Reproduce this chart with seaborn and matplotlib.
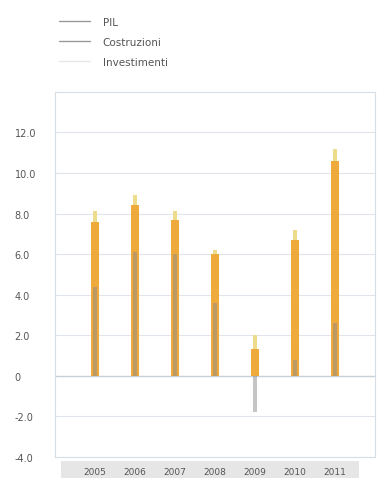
import matplotlib
matplotlib.use("Agg")
import matplotlib.pyplot as plt
from matplotlib.lines import Line2D
from matplotlib.patches import Rectangle
import pandas as pd
import seaborn as sns

# Annual growth rates (%)
years = ["2005", "2006", "2007", "2008", "2009", "2010", "2011"]
pil = [4.4, 6.1, 6.0, 3.6, -1.8, 0.8, 2.6]
costruzioni = [7.6, 8.4, 7.7, 6.0, 1.3, 6.7, 10.6]
investimenti = [8.1, 8.9, 8.1, 6.2, 2.0, 7.2, 11.2]

y_ticks = [-4, -2, 0, 2, 4, 6, 8, 10, 12]
y_tick_labels = ["-4.0", "-2.0", "0", "2.0", "4.0", "6.0", "8.0", "10.0", "12.0"]

df = pd.DataFrame({"anno": years, "PIL": pil, "Costruzioni": costruzioni,
                   "Investimenti": investimenti})

sns.set_style("white")
plt.rcParams["font.family"] = ["DejaVu Sans"]

fig = plt.figure(figsize=(3.81, 4.81), dpi=100)
ax = fig.add_axes([0.144, 0.048, 0.84, 0.759])

grid_c = "#dfe5eb"
ax.set_axisbelow(True)
ax.grid(True, color=grid_c, linewidth=0.8)

sns.barplot(data=df, x="anno", y="Investimenti", color="#ecdc8c", width=0.10,
            saturation=1, ax=ax, zorder=2, linewidth=0)
sns.barplot(data=df, x="anno", y="Costruzioni", color="#efaa3c", width=0.20,
            saturation=1, ax=ax, zorder=3, linewidth=0)
sns.barplot(data=df, x="anno", y="PIL", color="#8c8c8c", width=0.10,
            saturation=1, ax=ax, zorder=4, alpha=0.5, linewidth=0)

ax.set_xlim(-1, 7)
ax.set_ylim(-4, 14)
ax.set_xlabel("")
ax.set_ylabel("")
ax.set_yticks(y_ticks)
ax.set_yticklabels(y_tick_labels)
ax.axhline(0, color="#c8d0d8", linewidth=1.0, zorder=1)

ax.tick_params(axis="y", length=11, width=0.8, color=grid_c, pad=18,
               labelsize=7, labelcolor="#555555")
for lab in ax.get_yticklabels():
    lab.set_horizontalalignment("left")
ax.tick_params(axis="x", length=0, pad=7, labelsize=6.5, labelcolor="#555555")

for s in ax.spines.values():
    s.set_color("#d6dde4")
    s.set_linewidth(0.8)

# grey band behind the year labels
ax.add_patch(Rectangle((0.02, -0.058), 0.93, 0.046, transform=ax.transAxes,
                       facecolor="#e6e6e6", edgecolor="none", clip_on=False,
                       zorder=0))

handles = [Line2D([], [], color="#9a9a9a", linewidth=1.0),
           Line2D([], [], color="#9a9a9a", linewidth=1.0),
           Line2D([], [], color="#e8e8e8", linewidth=1.0)]
fig.legend(handles, ["PIL", "Costruzioni", "Investimenti"], loc="upper left",
           bbox_to_anchor=(0.13, 0.982), frameon=False, fontsize=7.5,
           handlelength=3.0, handletextpad=1.2, labelspacing=0.95,
           labelcolor="#555555")

fig.savefig("out.png", dpi=100)
